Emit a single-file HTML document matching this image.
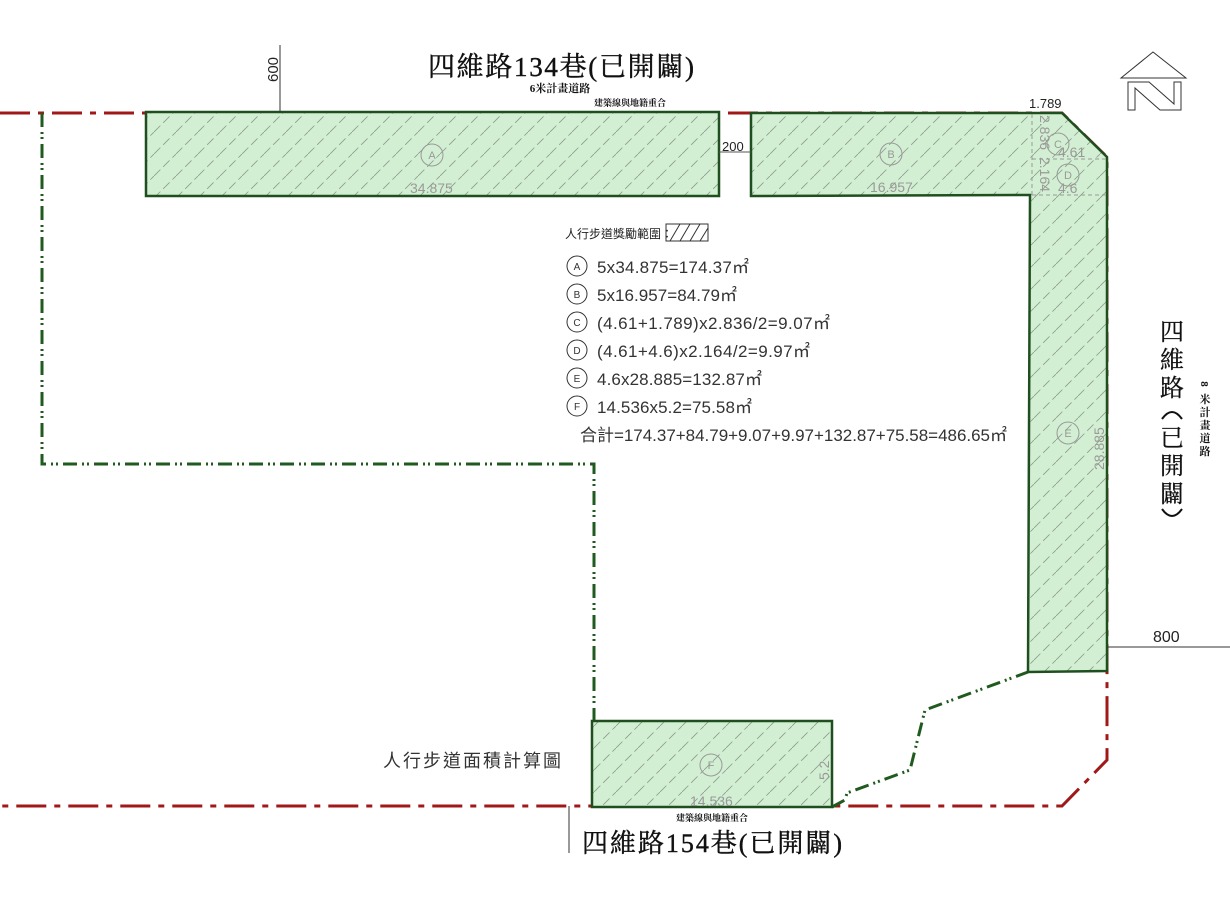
<!DOCTYPE html>
<html><head><meta charset="utf-8"><style>
html,body{margin:0;padding:0;background:#fff;}
svg{display:block;font-family:"Liberation Sans","Noto Sans CJK TC",sans-serif;}
.s{font-family:"Liberation Serif","Noto Serif CJK SC",serif;}
</style></head><body>
<svg width="1230" height="900" viewBox="0 0 1230 900" xmlns="http://www.w3.org/2000/svg">
<defs>
<pattern id="h" width="22" height="22" patternUnits="userSpaceOnUse">
<rect width="22" height="22" fill="#d3efd3"/>
<path d="M0 22 L22 0" stroke="#8a9a8a" stroke-width="0.8" stroke-dasharray="9 4"/>
</pattern>
</defs>
<path d="M0 113 H1062 L1107 157 V760 L1062 806 H0" fill="none" stroke="#a01818" stroke-width="3" stroke-dasharray="30 8 6 8"/>
<path d="M42 113 V464 H594 V721" fill="none" stroke="#1f5a1f" stroke-width="3" stroke-dasharray="14 5 2 3 2 5"/>
<path d="M832 807 L845 800 L847 793 L910 770 L925 710 L1028 672" fill="none" stroke="#1f5a1f" stroke-width="3" stroke-dasharray="14 5 2 3 2 5"/>
<rect x="146" y="112" width="573" height="84" fill="url(#h)" stroke="#1f4f1f" stroke-width="2.5"/>
<path d="M751 113 H1062 L1107 157 V671 L1028 672 L1030 195 L751 196 Z" fill="url(#h)" stroke="#1f4f1f" stroke-width="2.5"/>
<path d="M1032 114 V195 M1032 159 H1106 M1032 195 H1106" stroke="#999" stroke-width="1" stroke-dasharray="4 3" fill="none"/>
<rect x="592" y="721" width="240" height="86" fill="url(#h)" stroke="#1f4f1f" stroke-width="2.5"/>
<g fill="none" stroke="#999" stroke-width="1">
<circle cx="432" cy="155" r="11"/><circle cx="891" cy="154" r="11"/><circle cx="1058" cy="144" r="11"/><circle cx="1068" cy="175" r="11"/><circle cx="1068" cy="433" r="11"/><circle cx="711" cy="765" r="11"/>
</g>
<g fill="#999" font-size="11" text-anchor="middle">
<text x="432" y="159">A</text><text x="891" y="158">B</text><text x="1058" y="148">C</text><text x="1068" y="179">D</text><text x="1068" y="437">E</text><text x="711" y="769">F</text>
</g>
<g fill="#999" font-size="14">
<text x="410" y="193">34.875</text><text x="870" y="192">16.957</text><text x="1058" y="157">4.61</text><text x="1058" y="193">4.6</text><text x="690" y="806">14.536</text>
<text transform="translate(1104,470) rotate(-90)">28.885</text>
<text transform="translate(829,780) rotate(-90)">5.2</text>
<text transform="translate(1040,115) rotate(90)">2.836</text>
<text transform="translate(1040,157) rotate(90)">2.164</text>
</g>
<text x="1029" y="108" font-size="13" fill="#222">1.789</text>
<path d="M719 152 H751" stroke="#555" stroke-width="1"/>
<text x="722" y="151" font-size="13" fill="#222">200</text>
<path d="M280 45 V113" stroke="#333" stroke-width="1"/>
<text transform="translate(278,82) rotate(-90)" font-size="15" fill="#222">600</text>
<path d="M1107 647 H1230" stroke="#333" stroke-width="1"/>
<text x="1153" y="642" font-size="16" fill="#222">800</text>
<path d="M569 806 V853" stroke="#333" stroke-width="1"/>
<text class="s" x="561" y="76" font-size="27" text-anchor="middle" fill="#111" stroke="#111" stroke-width="0.4" textLength="266">四維路134巷(已開闢)</text>
<text class="s" x="560" y="92" font-size="11" text-anchor="middle" font-weight="bold" fill="#111">6米計畫道路</text>
<text class="s" x="630" y="106" font-size="9" text-anchor="middle" font-weight="bold" fill="#111">建築線與地籍重合</text>
<text class="s" x="712" y="821" font-size="9" text-anchor="middle" font-weight="bold" fill="#111">建築線與地籍重合</text>
<text class="s" x="712" y="852" font-size="26" text-anchor="middle" fill="#111" stroke="#111" stroke-width="0.4" textLength="260">四維路154巷(已開闢)</text>
<g class="s" font-size="24" fill="#111" text-anchor="middle" stroke="#111" stroke-width="0.3">
<text x="1172" y="340">四</text><text x="1172" y="368">維</text><text x="1172" y="396">路</text>
<text x="1172" y="446">已</text><text x="1172" y="474">開</text><text x="1172" y="502">闢</text>
</g>
<path d="M1162 419 Q1172 405 1182 419 M1162 509 Q1172 523 1182 509" fill="none" stroke="#111" stroke-width="2"/>
<g class="s" font-size="11" font-weight="bold" fill="#111" text-anchor="middle">
<text x="1205" y="388" transform="rotate(90 1205 384)">8</text><text x="1205" y="403">米</text><text x="1205" y="416">計</text><text x="1205" y="429">畫</text><text x="1205" y="442">道</text><text x="1205" y="455">路</text>
</g>
<text x="383" y="767" font-size="18" fill="#333" letter-spacing="2">人行步道面積計算圖</text>
<path d="M1121 78 L1153 52 L1186 78 Z" fill="none" stroke="#333" stroke-width="1"/>
<path d="M1128 82 V110 H1135 V88 L1160 110 H1181 V82 H1174 V104 L1149 82 Z" fill="none" stroke="#333" stroke-width="1"/>
<text x="565" y="238" font-size="12" fill="#222">人行步道獎勵範圍：</text>
<rect x="666" y="224" width="42" height="17" fill="none" stroke="#333" stroke-width="1"/>
<path d="M670 241 L680 224 M680 241 L690 224 M690 241 L700 224 M700 241 L708 228" stroke="#333" stroke-width="1"/>
<g fill="none" stroke="#333" stroke-width="1">
<circle cx="577" cy="266" r="10"/><circle cx="577" cy="294" r="10"/><circle cx="577" cy="322" r="10"/><circle cx="577" cy="350" r="10"/><circle cx="577" cy="378" r="10"/><circle cx="577" cy="406" r="10"/>
</g>
<g font-size="10" fill="#333" text-anchor="middle">
<text x="577" y="270">A</text><text x="577" y="298">B</text><text x="577" y="326">C</text><text x="577" y="354">D</text><text x="577" y="382">E</text><text x="577" y="410">F</text>
</g>
<g font-size="17" fill="#333">
<text x="597" y="273" textLength="152">5x34.875=174.37㎡</text>
<text x="597" y="301" textLength="140">5x16.957=84.79㎡</text>
<text x="597" y="329" textLength="233">(4.61+1.789)x2.836/2=9.07㎡</text>
<text x="597" y="357" textLength="213">(4.61+4.6)x2.164/2=9.97㎡</text>
<text x="597" y="385" textLength="165">4.6x28.885=132.87㎡</text>
<text x="597" y="413" textLength="155">14.536x5.2=75.58㎡</text>
<text x="580" y="441" textLength="427">合計=174.37+84.79+9.07+9.97+132.87+75.58=486.65㎡</text>
</g>
</svg>
</body></html>
